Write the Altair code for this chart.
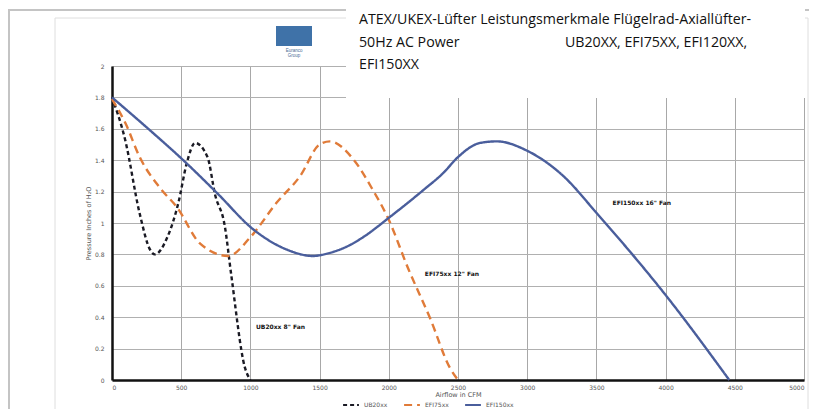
import altair as alt
import pandas as pd

# ---- data ----
series_names = ["UB20xx", "EFI75xx", "EFI150xx"]
series_colors = ["#1a1a24", "#e07b39", "#4a5e9c"]

ub_cfm = [0, 95, 200, 275, 310, 400, 480, 540, 600, 690, 745, 815, 860, 960, 1000]
ub_pressure = [1.80, 1.53, 1.06, 0.83, 0.80, 0.91, 1.13, 1.38, 1.51, 1.42, 1.18, 0.98, 0.68, 0.08, 0.0]

efi75_cfm = [0, 100, 200, 350, 470, 635, 840, 1000, 1190, 1360, 1500, 1575, 1740, 1885, 1995, 2140, 2300, 2440, 2500]
efi75_pressure = [1.79, 1.63, 1.42, 1.22, 1.10, 0.87, 0.79, 0.91, 1.13, 1.30, 1.50, 1.52, 1.41, 1.21, 1.03, 0.71, 0.39, 0.08, 0.0]

efi150_cfm = [0, 275, 515, 760, 1020, 1265, 1450, 1575, 1720, 1815, 2010, 2250, 2395, 2500, 2660, 2780, 3000, 3260, 3505, 4010, 4460]
efi150_pressure = [1.80, 1.59, 1.40, 1.19, 0.96, 0.83, 0.79, 0.81, 0.86, 0.91, 1.04, 1.21, 1.32, 1.42, 1.51, 1.52, 1.46, 1.30, 1.06, 0.53, 0.0]

x_ticks = [0, 500, 1000, 1500, 2000, 2500, 3000, 3500, 4000, 4500, 5000]
y_ticks = [0, 0.2, 0.4, 0.6, 0.8, 1.0, 1.2, 1.4, 1.6, 1.8, 2.0]

ann_text = ['UB20xx 8" Fan', 'EFI75xx 12" Fan', 'EFI150xx 16" Fan']
ann_cfm = [1040, 2260, 3617]
ann_pressure = [0.34, 0.675, 1.13]

title_lines = ["ATEX/UKEX-Lüfter Leistungsmerkmale Flügelrad-Axiallüfter-",
               "50Hz AC Power", "UB20XX, EFI75XX, EFI120XX,", "EFI150XX"]

# ---- build tables ----
rows = []
for name, xs_, ys_ in [("UB20xx", ub_cfm, ub_pressure),
                       ("EFI75xx", efi75_cfm, efi75_pressure),
                       ("EFI150xx", efi150_cfm, efi150_pressure)]:
    for i, (a, b) in enumerate(zip(xs_, ys_)):
        rows.append({"cfm": a, "pressure": b, "series": name, "idx": i})
df = pd.DataFrame(rows)
ann_df = pd.DataFrame({"cfm": ann_cfm, "pressure": ann_pressure, "text": ann_text})
one = pd.DataFrame({"a": [0]})

W, H = 692, 314

xs = alt.Scale(domain=[0, 5000], nice=False)
ys = alt.Scale(domain=[0, 2], nice=False)

x_axis = alt.Axis(values=x_ticks, format="d", title="Airflow in CFM",
                  labelPadding=4, titlePadding=1, gridColor="#a8a8a8",
                  labelOverlap=False, grid=True)
y_axis = alt.Axis(values=y_ticks, format=".1~f", title="Pressure Inches of H\u2082O",
                  labelPadding=8, titlePadding=3, gridColor="#b0b0b0",
                  labelOverlap=False, grid=True)

lines = alt.Chart(df).mark_line(strokeWidth=2.4, interpolate="monotone").encode(
    x=alt.X("cfm:Q", scale=xs, axis=x_axis),
    y=alt.Y("pressure:Q", scale=ys, axis=y_axis),
    color=alt.Color("series:N", scale=alt.Scale(domain=series_names, range=series_colors),
                    legend=alt.Legend(orient="none", legendX=230, legendY=330, direction="horizontal",
                                      title=None, labelFontSize=6, labelColor="#555555",
                                      symbolType="stroke", symbolStrokeWidth=2, symbolSize=250,
                                      columnPadding=12, labelFont="DejaVu Sans")),
    strokeDash=alt.StrokeDash("series:N", scale=alt.Scale(domain=series_names,
                                                          range=[[4, 3], [8, 5], [1, 0]]),
                              legend=None),
    order="idx:Q",
)

ann = alt.Chart(ann_df).mark_text(align="left", baseline="middle", fontSize=6,
                                  fontWeight="bold", color="#111111", font="DejaVu Sans").encode(
    x=alt.X("cfm:Q", scale=xs, axis=x_axis), y=alt.Y("pressure:Q", scale=ys, axis=y_axis),
    text="text:N")

# frames (plot-area pixel coordinates; plot origin = page (112, 66))
outer = alt.Chart(one).mark_rect(fillOpacity=0, stroke="#c4c4c4", strokeWidth=2).encode(
    x=alt.value(-103), x2=alt.value(720), y=alt.value(-56), y2=alt.value(400))
inner = alt.Chart(one).mark_rect(fillOpacity=0, stroke="#dedede", strokeWidth=1).encode(
    x=alt.value(-57), x2=alt.value(696), y=alt.value(-48), y2=alt.value(400))
title_box = alt.Chart(one).mark_rect(fill="white").encode(
    x=alt.value(234), x2=alt.value(693), y=alt.value(-70), y2=alt.value(32))
logo = alt.Chart(one).mark_rect(fill="#3f72a8").encode(
    x=alt.value(164), x2=alt.value(200), y=alt.value(-40), y2=alt.value(-20))
logo_txt = alt.Chart(one).mark_text(fontSize=4.5, color="#4a6b95", align="center").encode(
    x=alt.value(182), y=alt.value(-15), text=alt.value("Euranco"))
logo_txt2 = alt.Chart(one).mark_text(fontSize=4.5, color="#4a6b95", align="center").encode(
    x=alt.value(182), y=alt.value(-10), text=alt.value("Group"))

def tline(txt, px, py):
    return alt.Chart(one).mark_text(align="left", baseline="middle", fontSize=14.2,
                                    font="Open Sans", color="#111111").encode(
        x=alt.value(px), y=alt.value(py), text=alt.value(txt))

t1 = tline(title_lines[0], 247, -46)
t2 = tline(title_lines[1], 247, -23)
t3 = tline(title_lines[2], 453, -23)
t4 = tline(title_lines[3], 247, -1)

chart = alt.layer(outer, inner, lines, ann, title_box, logo, logo_txt, logo_txt2,
                  t1, t2, t3, t4).properties(
    width=W, height=H,
    autosize=alt.AutoSizeParams(type="none"),
    padding={"left": 104, "top": 58, "right": 5, "bottom": 29},
    background="white",
).configure_view(stroke=None).configure_axis(
    labelFontSize=6, labelColor="#555555", titleFontSize=6.5, titleFontWeight="normal",
    titleColor="#555555", ticks=False, domainColor="#111111", domainWidth=2.5,
    labelFont="DejaVu Sans", titleFont="DejaVu Sans", gridWidth=1
)

chart.save("out.html", embed_options={"renderer": "svg", "actions": False})
